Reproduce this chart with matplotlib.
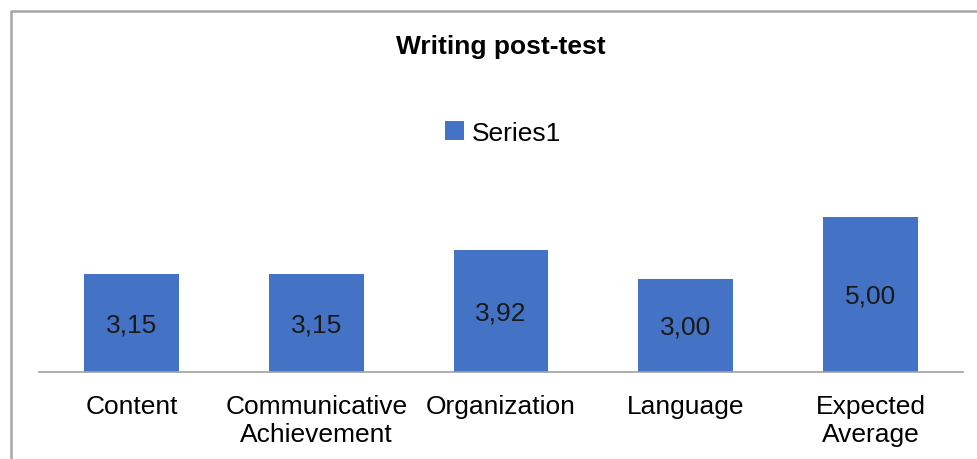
import matplotlib.pyplot as plt
from matplotlib.lines import Line2D

plt.rcParams['font.family'] = ['Liberation Sans', 'DejaVu Sans']

categories = ['Content', 'Communicative\nAchievement', 'Organization', 'Language', 'Expected\nAverage']
values = [3.15, 3.15, 3.92, 3.00, 5.00]
value_labels = ['3,15', '3,15', '3,92', '3,00', '5,00']

W, H = 977, 460
fig = plt.figure(figsize=(W / 100, H / 100), dpi=100)
ax = fig.add_axes([39 / W, (H - 372.5) / H, 924 / W, 186 / H])

x = range(len(categories))
bars = ax.bar(x, values, width=0.514, color='#4472C4', label='Series1', zorder=2)
for b, lab in zip(bars, value_labels):
    ax.text(b.get_x() + b.get_width() / 2, b.get_height() / 2 - 0.05, lab,
            ha='center', va='center', fontsize=19, color='#1a1a1a')

ax.set_xlim(-0.5, len(categories) - 0.5)
ax.set_ylim(0, 6)
ax.set_xticks(list(x))
ax.set_xticklabels(categories, fontsize=19, linespacing=1.2)
ax.tick_params(axis='x', length=0, pad=16)
ax.set_yticks([])
for s in ['top', 'right', 'left']:
    ax.spines[s].set_visible(False)
ax.spines['bottom'].set_color('#A0A0A0')
ax.spines['bottom'].set_linewidth(1.2)

fig.text(501 / W, 1 - 47 / H, 'Writing post-test', ha='center', va='center',
         fontsize=19, fontweight='bold')
fig.legend(loc='center', bbox_to_anchor=(503 / W, 1 - 134 / H), frameon=False,
           fontsize=19, handlelength=0.75, handleheight=0.75, handletextpad=0.3)

# chart border
fig.add_artist(Line2D([10.5 / W, 10.5 / W, 1.0], [0, 1 - 11.5 / H, 1 - 11.5 / H],
                      transform=fig.transFigure, color='#A6A6A6', linewidth=1.8))

fig.savefig('out.png', dpi=100)
